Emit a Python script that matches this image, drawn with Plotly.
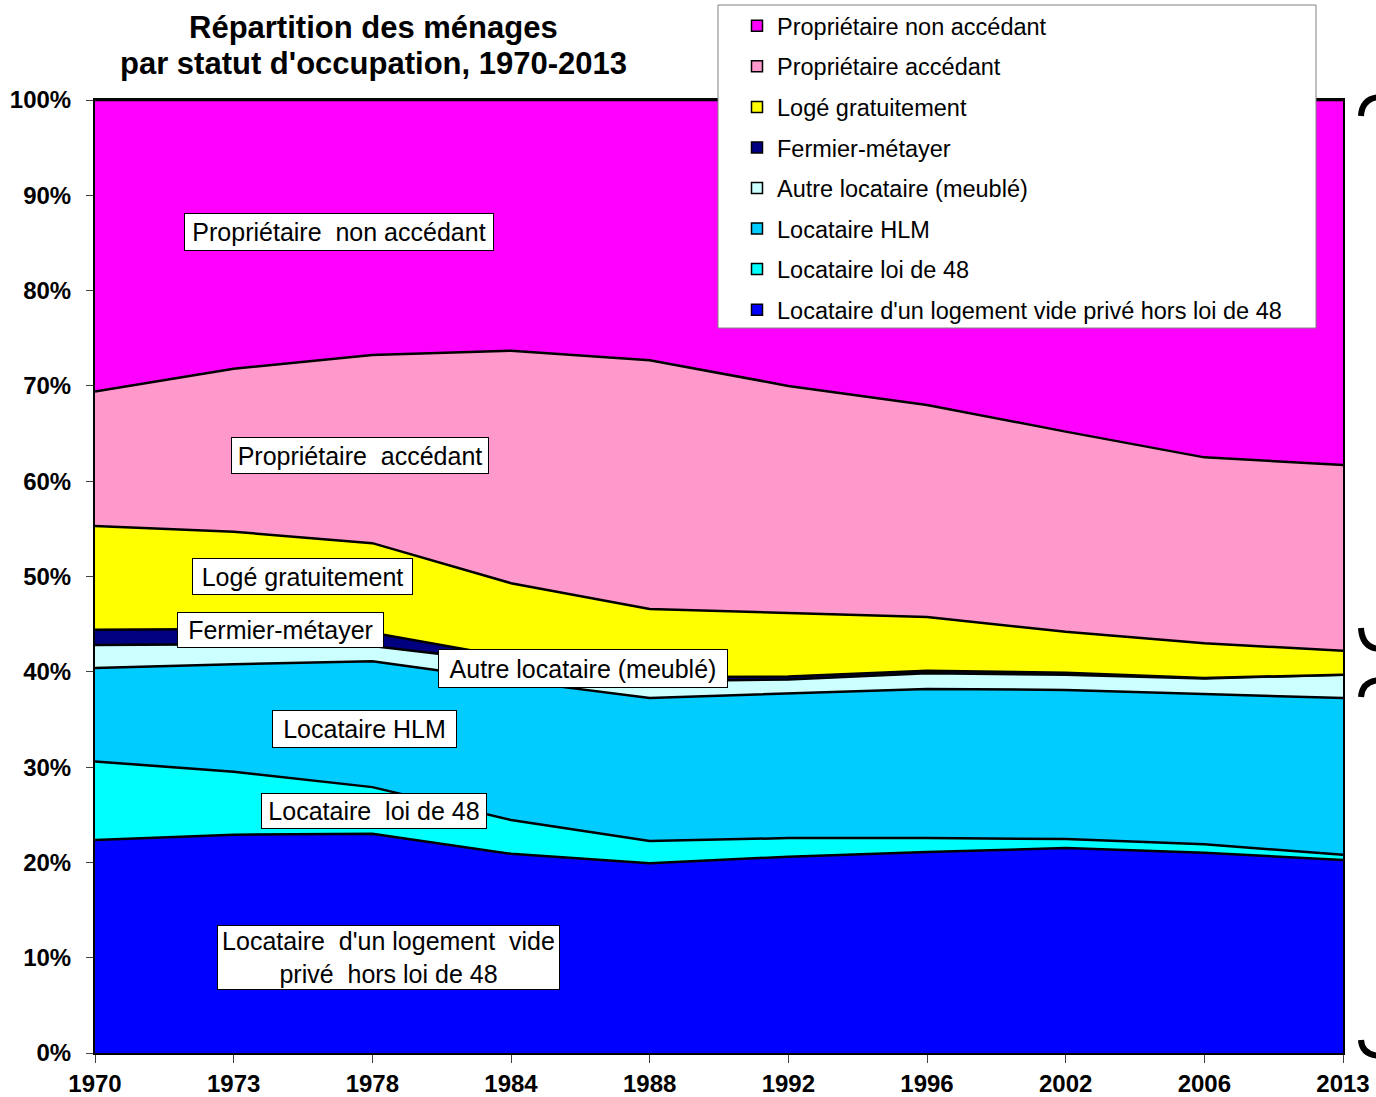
import plotly.graph_objects as go

# Données (parts en % des ménages)
annees = ["1970", "1973", "1978", "1984", "1988", "1992", "1996", "2002", "2006", "2013"]

vide_prive = [22.35, 22.9, 23.0, 20.9, 19.9, 20.6, 21.1, 21.5, 21.0, 20.25]
loi_48 = [8.25, 6.6, 4.9, 3.55, 2.35, 1.95, 1.45, 0.95, 0.9, 0.55]
hlm = [9.8, 11.3, 13.2, 14.65, 15.0, 15.15, 15.65, 15.65, 15.8, 16.45]
autre_meuble = [2.4, 2.1, 1.6, 1.9, 1.75, 1.5, 1.65, 1.6, 1.6, 2.45]
fermier = [1.6, 1.6, 1.4, 0.5, 0.45, 0.3, 0.25, 0.2, 0.05, 0.0]
loge_gratuit = [10.9, 10.2, 9.4, 7.8, 7.15, 6.7, 5.65, 4.3, 3.65, 2.5]
accedant = [14.1, 17.1, 19.75, 24.4, 26.1, 23.8, 22.25, 21.0, 19.5, 19.5]
non_accedant = [30.6, 28.2, 26.75, 26.3, 27.3, 30.0, 32.0, 34.8, 37.5, 38.3]

noms = [
    "Locataire d'un logement vide privé hors loi de 48",
    "Locataire loi de 48",
    "Locataire HLM",
    "Autre locataire (meublé)",
    "Fermier-métayer",
    "Logé gratuitement",
    "Propriétaire accédant",
    "Propriétaire non accédant",
]
series = [vide_prive, loi_48, hlm, autre_meuble, fermier, loge_gratuit, accedant, non_accedant]
couleurs = ["#0000FF", "#00FFFF", "#00CCFF", "#CCFFFF", "#000080", "#FFFF00", "#FF99CC", "#FF00FF"]

FONT = "Liberation Sans, Arial, sans-serif"
W, H = 1376, 1097

# plot area on screen (pixels): x 95..1343, y 100..1053
def px_x(px):
    return (px - 95) / 1248


def px_y(py):
    return (1053 - py) / 953


fig = go.Figure()

for nom, vals, col in zip(noms, series, couleurs):
    fig.add_trace(go.Scatter(
        x=annees, y=vals, name=nom, stackgroup="one", mode="lines",
        line=dict(color="black", width=2.5), fillcolor=col, showlegend=False,
        hoverinfo="skip",
    ))

# legend entries (square markers), top to bottom
for nom, col in zip(reversed(noms), reversed(couleurs)):
    fig.add_trace(go.Scatter(
        x=[None], y=[None], mode="markers", name=nom, legendgroup=nom,
        marker=dict(symbol="square", size=11, color=col, line=dict(color="black", width=1.5)),
    ))

# text boxes on the areas: (text, centre x px, centre y px, width, height)
etiquettes = [
    ("Propriétaire  non accédant", 339, 232, 308, 36),
    ("Propriétaire  accédant", 360, 456, 256, 35),
    ("Logé gratuitement", 302, 576, 219, 35),
    ("Fermier-métayer", 280, 630, 205, 34),
    ("Autre locataire (meublé)", 583, 668, 288, 37),
    ("Locataire HLM", 364, 729, 183, 36),
    ("Locataire  loi de 48", 374, 811, 224, 34),
    ("Locataire  d'un logement  vide<br>privé  hors loi de 48", 388, 957, 341, 63),
]
annotations = []
for txt, cx, cy, w, h in etiquettes:
    annotations.append(dict(
        text=txt, x=px_x(cx), y=px_y(cy), xref="paper", yref="paper",
        showarrow=False, xanchor="center", yanchor="middle",
        width=w, height=h, bgcolor="white", bordercolor="black", borderwidth=1,
        borderpad=0, font=dict(family=FONT, size=25, color="black"),
    ))

for ligne, cy in [("Répartition des ménages", 28), ("par statut d'occupation, 1970-2013", 63)]:
    annotations.append(dict(
        text=f"<b>{ligne}</b>", x=px_x(373), y=px_y(cy), xref="paper", yref="paper",
        showarrow=False, xanchor="center", yanchor="middle",
        font=dict(family=FONT, size=31, color="black"),
    ))

shapes = [
    # legend box
    dict(type="rect", xref="paper", yref="paper",
         x0=px_x(718), x1=px_x(1316), y0=px_y(328), y1=px_y(5),
         fillcolor="white", line=dict(color="#808080", width=1), layer="above"),
]


def arc(p0, p1, p2):
    return (f"M {px_x(p0[0])},{px_y(p0[1])} Q {px_x(p1[0])},{px_y(p1[1])} "
            f"{px_x(p2[0])},{px_y(p2[1])}")


# curly brace ends on the right margin
for p in [
    arc((1361, 116), (1362, 98), (1380, 97)),
    arc((1361, 628), (1362, 648), (1380, 649)),
    arc((1361, 697), (1362, 681), (1380, 680)),
    arc((1361, 1040), (1362, 1055), (1380, 1056)),
]:
    shapes.append(dict(type="path", xref="paper", yref="paper", path=p,
                       line=dict(color="black", width=6)))

fig.update_layout(
    width=W, height=H,
    margin=dict(l=95, r=W - 1343, t=100, b=H - 1053, autoexpand=False),
    paper_bgcolor="white", plot_bgcolor="white",
    font=dict(family=FONT, color="black"),
    showlegend=True,
    legend=dict(
        xref="container", yref="container",
        x=737 / W, y=1 - 4 / H, xanchor="left", yanchor="top",
        bgcolor="rgba(0,0,0,0)", borderwidth=0, traceorder="grouped",
        font=dict(family=FONT, size=23.5, color="black"),
        tracegroupgap=7, itemwidth=30,
    ),
    xaxis=dict(
        type="category", range=[0, 9], showgrid=False, automargin=False,
        showline=True, linecolor="black", linewidth=2, mirror=True,
        ticks="outside", ticklen=8, tickcolor="#404040",
        tickfont=dict(family=FONT, size=24, color="black"),
        tickprefix="<b>", ticksuffix="</b>",
    ),
    yaxis=dict(
        range=[0, 100], tickvals=list(range(0, 101, 10)),
        ticktext=[f"<b>{v}%</b>" for v in range(0, 101, 10)],
        showgrid=False, zeroline=False, automargin=False,
        showline=True, linecolor="black", linewidth=2, mirror=True,
        ticks="outside", ticklen=7, tickcolor="#404040", ticklabelstandoff=10,
        tickfont=dict(family=FONT, size=24, color="black"),
    ),
    annotations=annotations,
    shapes=shapes,
)

# no page margin round the figure, so it sits at the window's top-left corner
fig.write_html("out.html", config={"displayModeBar": False},
               post_script="document.body.style.margin='0';")
